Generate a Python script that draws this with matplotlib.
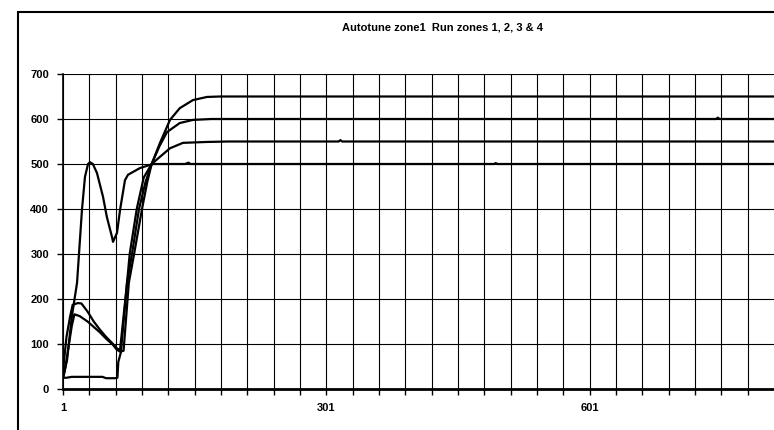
import numpy as np
import matplotlib.pyplot as plt
from matplotlib.patches import Rectangle

plt.rcParams['font.family'] = ['Liberation Sans', 'DejaVu Sans']

# zone 1 (autotune run, settles at 500)
z1_x = [1, 5.6, 11, 17, 22.6, 26, 29.5, 31.7, 35, 39.7, 46.6, 51, 56.8, 58, 62.5, 66, 71.6,
        75, 88.7, 103.5, 140, 144, 146, 150, 492, 494, 496, 811]
z1_y = [25, 64, 160, 236, 398, 471, 500, 504, 500, 480, 427, 382, 338, 327, 347, 398, 464,
        476, 491, 500, 500, 503, 500, 500, 500, 502, 500, 500]

# zone 2 (settles at 550)
z2_x = [1, 2, 5, 9, 12, 18, 22, 29, 36, 43, 50, 58, 62.5, 66, 74, 79.6, 87.6, 95, 102, 111.5,
        122.9, 137.7, 165, 190, 315, 317, 319, 811]
z2_y = [25, 60, 116, 160, 187, 191, 190, 172, 150, 132, 116, 100, 90, 87, 236, 300, 400, 460, 500, 516,
        535, 547, 549, 550, 550, 553, 550, 550]

# zone 3 (settles at 600)
z3_x = [1, 3, 7, 11, 14, 20, 29, 36, 43, 50, 58, 62, 66, 70, 76, 82, 91, 97, 102, 111, 119.5,
        134, 149, 170, 745, 747, 749, 811]
z3_y = [25, 40, 90, 140, 166, 162, 150, 138, 126, 112, 98, 88, 83, 85, 236, 300, 400, 460, 500, 540,
        571, 591, 598, 600, 600, 603, 600, 600]

# zone 4 (starts flat near 25, settles at 650)
z4_x = [1, 5, 11, 20, 30, 40, 46, 50, 60, 63, 64, 67, 73.9, 77, 85, 93, 102, 111.5, 122.9,
        134, 149, 165, 180, 811]
z4_y = [25, 25, 27, 27, 27, 27, 27, 24, 24, 25, 60, 82, 236, 300, 400, 470, 500, 547, 598,
        624, 642, 649, 650, 650]

y_ticks = [0, 100, 200, 300, 400, 500, 600, 700]
x_ticks = list(range(1, 811, 30))
x_labels = {1: '1', 301: '301', 601: '601'}

fig = plt.figure(figsize=(7.74, 4.30), dpi=100)
ax = fig.add_axes([63 / 774, 1 - 389 / 430, 1 - 63 / 774, (389 - 74) / 430])

for xs, ys in [(z1_x, z1_y), (z2_x, z2_y), (z3_x, z3_y), (z4_x, z4_y)]:
    ax.plot(xs, ys, color='black', lw=1.6, zorder=3)

ax.set_xlim(1, 811)
ax.set_ylim(0, 700)
ax.set_yticks(y_ticks)
ax.set_yticklabels([str(v) for v in y_ticks], fontsize=8, fontweight='bold')
ax.set_xticks(x_ticks)
ax.set_xticklabels([x_labels.get(v, '') for v in x_ticks], fontsize=8, fontweight='bold')
ax.tick_params(axis='both', direction='out', length=4, width=1, color='black', pad=6)
ax.grid(True, color='black', lw=0.8)
ax.set_axisbelow(True)

for s in ['top', 'right']:
    ax.spines[s].set_visible(False)
ax.spines['left'].set_linewidth(1.2)
ax.spines['bottom'].set_linewidth(2)

# outer chart border
fig.patches.append(Rectangle((18 / 774, -0.1), 1.2, 1.1 - 12 / 430, transform=fig.transFigure,
                             fill=False, ec='black', lw=1.5))

fig.text(442 / 774, 1 - 27 / 430, 'Autotune zone1  Run zones 1, 2, 3 & 4', ha='center', va='center',
         fontsize=8, fontweight='bold')

fig.savefig('out.png', dpi=100)
